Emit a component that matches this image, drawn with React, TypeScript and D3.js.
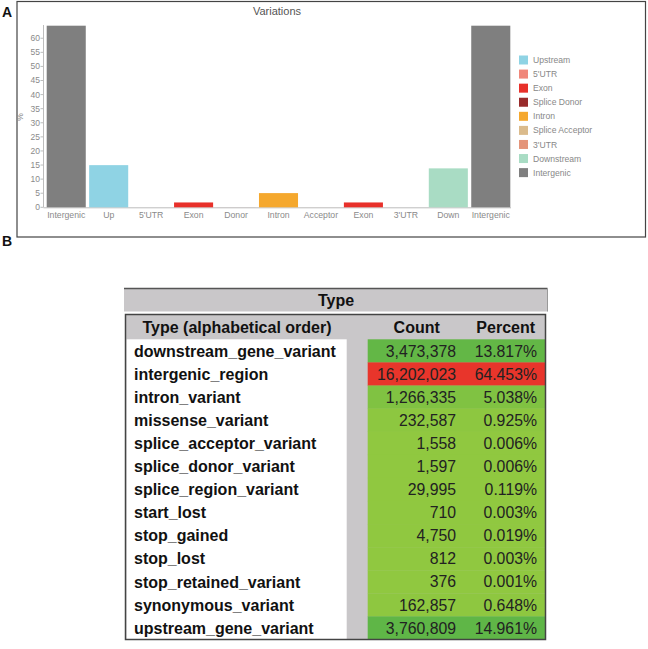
import React from "react";
import * as d3 from "d3";

const barCategories = ["Intergenic", "Up", "5'UTR", "Exon", "Donor", "Intron", "Acceptor", "Exon", "3'UTR", "Down", "Intergenic"];
const barKeys = ["Intergenic", "Upstream", "5'UTR", "Exon", "Splice Donor", "Intron", "Splice Acceptor", "Exon", "3'UTR", "Downstream", "Intergenic"];
const barValues = [64.453, 14.961, 0, 1.72, 0.006, 5.038, 0.006, 1.72, 0, 13.817, 64.453];
const yTicks = [0, 5, 10, 15, 20, 25, 30, 35, 40, 45, 50, 55, 60];

const legendLabels = ["Upstream", "5'UTR", "Exon", "Splice Donor", "Intron", "Splice Acceptor", "3'UTR", "Downstream", "Intergenic"];
const legendColors = ["#8fd3e4", "#f0877a", "#e8302a", "#982b2b", "#f5a82e", "#dbbb8c", "#e4957a", "#a9dcc4", "#7f7f7f"];

const typeNames = [
  "downstream_gene_variant", "intergenic_region", "intron_variant", "missense_variant",
  "splice_acceptor_variant", "splice_donor_variant", "splice_region_variant", "start_lost",
  "stop_gained", "stop_lost", "stop_retained_variant", "synonymous_variant", "upstream_gene_variant",
];
const typeCounts = [3473378, 16202023, 1266335, 232587, 1558, 1597, 29995, 710, 4750, 812, 376, 162857, 3760809];
const typePercents = ["13.817%", "64.453%", "5.038%", "0.925%", "0.006%", "0.006%", "0.119%", "0.003%", "0.019%", "0.003%", "0.001%", "0.648%", "14.961%"];

export default function App() {
  const colorOf = d3.scaleOrdinal<string, string>().domain(legendLabels).range(legendColors);

  // Panel A
  const x = d3.scaleBand<number>().domain(d3.range(barCategories.length)).range([45, 512]).paddingInner(0.08).paddingOuter(0.04);
  const y = d3.scaleLinear().domain([0, 64.7]).range([207.3, 25]);
  const legendY = d3.scaleBand<number>().domain(d3.range(legendLabels.length)).range([53, 179.7]);

  // Panel B
  const rowsTop = 339.3;
  const rowY = d3.scaleBand<number>().domain(d3.range(typeNames.length)).range([rowsTop, 639.5]);
  const cellColor = d3.scaleLinear<string>().domain([0, 3760809, 16202023]).range(["#90c840", "#5fb647", "#e8352b"]).clamp(true);
  const fmt = d3.format(",");

  const axisGray = "#bdbdbd";
  const textGray = "#8a8a8a";
  const font = "'Liberation Sans', Arial, sans-serif";

  return (
    <svg width={648} height={649} style={{ position: "absolute", left: 0, top: 0, background: "#fff" }} fontFamily={font}>
      {/* Panel A */}
      <text x={2} y={17} fontSize={14} fontWeight="bold" fill="#111">A</text>
      <rect x={17} y={1.5} width={628.5} height={235.5} fill="none" stroke="#444" strokeWidth={1.2} />
      <text x={277} y={15} fontSize={11} fill="#555" textAnchor="middle">Variations</text>

      <line x1={43.5} x2={43.5} y1={25} y2={207.3} stroke={axisGray} />
      <line x1={43.5} x2={511} y1={207.8} y2={207.8} stroke={axisGray} />
      {yTicks.map((t) => (
        <g key={t}>
          <line x1={40.5} x2={43.5} y1={y(t)} y2={y(t)} stroke={axisGray} />
          <text x={40} y={y(t)} dy="0.35em" fontSize={8.5} fill={textGray} textAnchor="end">{t}</text>
        </g>
      ))}
      <text transform={`translate(23,117) rotate(-90)`} fontSize={8.5} fill={textGray} textAnchor="middle">%</text>

      {barValues.map((v, i) => (
        <rect key={i} x={x(i)} y={y(v)} width={x.bandwidth()} height={y(0) - y(v)} fill={colorOf(barKeys[i])} />
      ))}
      {barCategories.map((c, i) => (
        <text key={i} x={(x(i) as number) + x.bandwidth() / 2} y={217.5} fontSize={8.7} fill={textGray} textAnchor="middle">{c}</text>
      ))}

      {legendLabels.map((l, i) => (
        <g key={l}>
          <rect x={519} y={(legendY(i) as number) + 2.5} width={9} height={9} fill={legendColors[i]} />
          <text x={533} y={(legendY(i) as number) + legendY.bandwidth() / 2} dy="0.35em" fontSize={8.6} fill="#888">{l}</text>
        </g>
      ))}

      {/* Panel B */}
      <text x={2} y={246} fontSize={14} fontWeight="bold" fill="#111">B</text>
      <rect x={124} y={288.5} width={423.5} height={23} fill="#c9c7c9" />
      <line x1={124} x2={547.5} y1={288.5} y2={288.5} stroke="#555" strokeWidth={1.5} />
      <line x1={547.5} x2={547.5} y1={288.5} y2={311.5} stroke="#999" strokeWidth={1} />
      <text x={336} y={300} dy="0.36em" fontSize={16} fontWeight="bold" fill="#111" textAnchor="middle">Type</text>

      <rect x={125.5} y={314.5} width={420} height={325} fill="#c9c7c9" />
      <rect x={126.5} y={rowsTop} width={220.2} height={639.5 - rowsTop} fill="#fff" />
      <text x={237} y={327.5} dy="0.36em" fontSize={16} fontWeight="bold" fill="#111" textAnchor="middle">Type (alphabetical order)</text>
      <text x={416.7} y={327.5} dy="0.36em" fontSize={16} fontWeight="bold" fill="#111" textAnchor="middle">Count</text>
      <text x={505.7} y={327.5} dy="0.36em" fontSize={16} fontWeight="bold" fill="#111" textAnchor="middle">Percent</text>

      {typeNames.map((n, i) => {
        const yy = rowY(i) as number;
        const cy = yy + rowY.bandwidth() / 2;
        return (
          <g key={n}>
            <rect x={367.7} y={yy} width={178} height={rowY.bandwidth() + 0.3} fill={cellColor(typeCounts[i])} />
            <text x={134} y={cy} dy="0.36em" fontSize={16} fontWeight="bold" fill="#111">{n}</text>
            <text x={456} y={cy} dy="0.36em" fontSize={15.8} fill="#222" textAnchor="end">{fmt(typeCounts[i])}</text>
            <text x={537} y={cy} dy="0.36em" fontSize={15.8} fill="#222" textAnchor="end">{typePercents[i]}</text>
          </g>
        );
      })}
      <rect x={125.5} y={314.5} width={420} height={325} fill="none" stroke="#444" strokeWidth={1.5} />
    </svg>
  );
}
